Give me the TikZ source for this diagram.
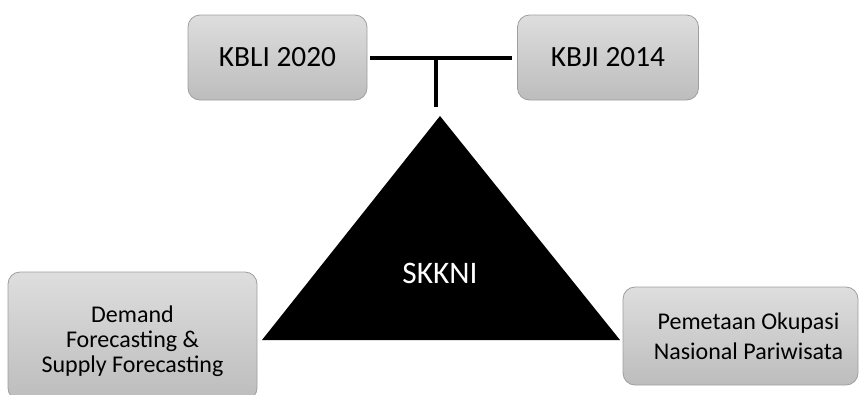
\documentclass[tikz,border=0pt]{standalone}
\usepackage{fontspec}
\setmainfont{Carlito}
\begin{document}
\begin{tikzpicture}[x=0.75pt,y=-0.75pt,
  gbox/.style={draw=black!38, line width=0.6pt, rounded corners=9pt, top color=black!13, bottom color=black!26, align=center, inner sep=0pt, text=black},
  link/.style={line width=3pt, black}]
\useasboundingbox (0,0) rectangle (861,394);
\clip (0,0) rectangle (861,394);
\node[gbox, minimum width=134.25pt, minimum height=63.75pt, font=\fontsize{22}{26}\selectfont] (kbli) at (277.5,57.5) {KBLI 2020};
\node[gbox, minimum width=135.75pt, minimum height=63.75pt, font=\fontsize{22}{26}\selectfont] (kbji) at (608,57.5) {KBJI 2014};
\node[gbox, minimum width=186.75pt, minimum height=96pt, font=\fontsize{18}{18.75}\selectfont] (dem) at (132.5,336) {\rule{0pt}{4pt}\\[-2pt]Demand\\Forecasting \&\\Supply Forecasting};
\node[gbox, minimum width=176.25pt, minimum height=73.5pt, font=\fontsize{18}{22.5}\selectfont] (pem) at (740.5,336) {\hspace*{12pt}Pemetaan Okupasi\\\hspace*{12pt}Nasional Pariwisata};
\coordinate (apex) at (440,116);
\coordinate (bl) at (262,340);
\coordinate (br) at (620,340);
\fill[black] (apex) -- (br) -- (bl) -- cycle;
\node[text=white, font=\fontsize{23.5}{28}\selectfont] (sk) at (440,273) {SKKNI};
\coordinate (junc) at (436,58);
\coordinate (stem) at (436,107);
\draw[link, shorten <=2pt, shorten >=4pt] (kbli.east) -- (kbji.west);
\draw[link] (junc) -- (stem);
\end{tikzpicture}
\end{document}
